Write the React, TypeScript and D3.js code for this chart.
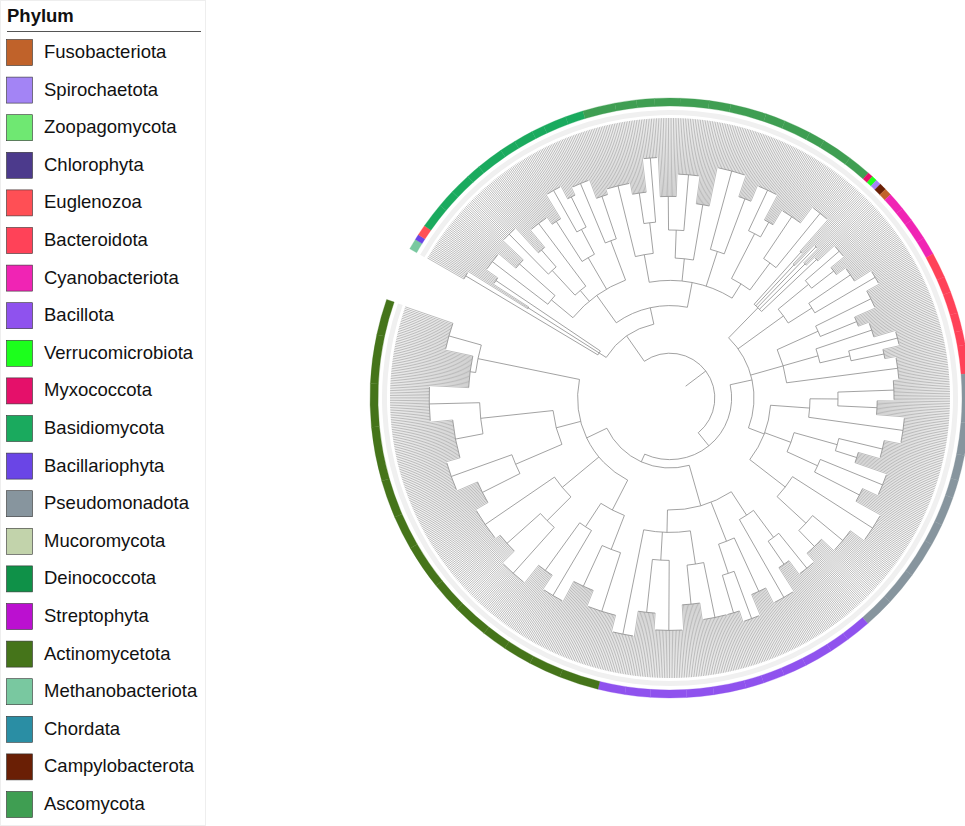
import React from "react";
import * as d3 from "d3";

const phyla = ["Fusobacteriota","Spirochaetota","Zoopagomycota","Chlorophyta","Euglenozoa","Bacteroidota","Cyanobacteriota","Bacillota","Verrucomicrobiota","Myxococcota","Basidiomycota","Bacillariophyta","Pseudomonadota","Mucoromycota","Deinococcota","Streptophyta","Actinomycetota","Methanobacteriota","Chordata","Campylobacterota","Ascomycota"];
const colors = ["#c0622a","#a384f5","#6fe872","#4c3a8c","#ff4f55","#ff4258","#f024b4","#8f52ee","#1cff1c","#e5106a","#1aaa5e","#6a45e6","#87959e","#c2d3ab","#0f9148","#bb10d0","#45741a","#79c8a0","#2a8ea4","#6a1f05","#3f9e52"];

type T = { r: number; c?: T[]; p?: string; n?: number };
const F = (p: string, n: number, r: number): T => ({ p, n, r });
const N = (r: number, ...c: T[]): T => ({ r, c });

const euk = N(0.27,
  N(0.3, F("Methanobacteriota", 6, 0.85), F("Bacillariophyta", 3, 0.6), F("Euglenozoa", 6, 0.75)),
  N(0.33,
    N(0.45,
      N(0.55, F("Basidiomycota", 14, 0.8), F("Basidiomycota", 10, 0.72)),
      N(0.5, N(0.62, F("Basidiomycota", 12, 0.82), F("Basidiomycota", 8, 0.7)), F("Basidiomycota", 15, 0.78)),
      N(0.58, F("Basidiomycota", 9, 0.75), N(0.68, F("Basidiomycota", 11, 0.85), F("Basidiomycota", 7, 0.8))),
      N(0.6, F("Basidiomycota", 13, 0.83), F("Basidiomycota", 10, 0.76))),
    N(0.42,
      N(0.52, F("Ascomycota", 18, 0.78), N(0.63, F("Ascomycota", 12, 0.74), F("Ascomycota", 10, 0.86))),
      N(0.5, N(0.6, F("Ascomycota", 14, 0.72), F("Ascomycota", 16, 0.8)), F("Ascomycota", 12, 0.7)),
      N(0.55, F("Ascomycota", 20, 0.84), F("Ascomycota", 11, 0.76)),
      N(0.48, N(0.66, F("Ascomycota", 15, 0.82), F("Ascomycota", 9, 0.72)), N(0.6, F("Ascomycota", 17, 0.78), F("Ascomycota", 13, 0.85))))));

const gramNeg = N(0.3,
  N(0.45, F("Myxococcota", 3, 0.7), F("Verrucomicrobiota", 3, 0.65), F("Spirochaetota", 3, 0.75), F("Campylobacterota", 4, 0.68), F("Fusobacteriota", 4, 0.72)),
  N(0.5, N(0.64, F("Cyanobacteriota", 10, 0.8), F("Cyanobacteriota", 8, 0.74)), N(0.6, F("Cyanobacteriota", 12, 0.78), F("Cyanobacteriota", 10, 0.85))),
  N(0.42, N(0.58, F("Bacteroidota", 14, 0.8), F("Bacteroidota", 9, 0.72)), N(0.55, F("Bacteroidota", 12, 0.76), N(0.66, F("Bacteroidota", 10, 0.84), F("Bacteroidota", 8, 0.78))), F("Bacteroidota", 16, 0.82)),
  N(0.36,
    N(0.5, N(0.6, F("Pseudomonadota", 15, 0.8), F("Pseudomonadota", 12, 0.74)), F("Pseudomonadota", 18, 0.84)),
    N(0.46, N(0.62, F("Pseudomonadota", 14, 0.78), F("Pseudomonadota", 10, 0.7)), N(0.58, F("Pseudomonadota", 16, 0.82), F("Pseudomonadota", 12, 0.76))),
    N(0.52, F("Pseudomonadota", 20, 0.86), N(0.66, F("Pseudomonadota", 19, 0.8), F("Pseudomonadota", 17, 0.74)))));

const gramPos = N(0.25,
  N(0.4,
    N(0.5, N(0.62, F("Bacillota", 14, 0.78), F("Bacillota", 11, 0.72)), F("Bacillota", 16, 0.82)),
    N(0.55, F("Bacillota", 13, 0.76), N(0.66, F("Bacillota", 12, 0.84), F("Bacillota", 10, 0.8))),
    N(0.48, N(0.6, F("Bacillota", 18, 0.8), F("Bacillota", 15, 0.74)), N(0.58, F("Bacillota", 20, 0.83), F("Bacillota", 14, 0.77)), F("Bacillota", 15, 0.86))),
  N(0.33,
    N(0.45, N(0.58, F("Actinomycetota", 22, 0.8), F("Actinomycetota", 18, 0.74)), N(0.55, F("Actinomycetota", 16, 0.82), F("Actinomycetota", 14, 0.76))),
    N(0.5, N(0.62, F("Actinomycetota", 20, 0.84), F("Actinomycetota", 17, 0.78)), F("Actinomycetota", 25, 0.8)),
    N(0.42, N(0.6, F("Actinomycetota", 19, 0.75), F("Actinomycetota", 21, 0.83)), N(0.68, F("Actinomycetota", 30, 0.78), F("Actinomycetota", 24, 0.86))),
    N(0.7, F("Actinomycetota", 27, 0.72), F("Actinomycetota", 20, 0.82))));

const tree = N(0.16, euk, N(0.22, gramNeg, gramPos));

const CX = 670, CY = 398, R = 280;
const startDeg = 300, endDeg = 649;

export default function App() {
  let total = 0;
  const countTips = (t: T) => { if (t.c) t.c.forEach(countTips); else total += t.n!; };
  countTips(tree);
  const ang = d3.scaleLinear().domain([0, total - 1]).range([startDeg * Math.PI / 180, endDeg * Math.PI / 180]);
  const rad = d3.scaleLinear().domain([0, 1]).range([0, R]);
  const step = ang(1) - ang(0);
  const pt = (a: number, r: number) => [CX + r * Math.sin(a), CY - r * Math.cos(a)];
  const arcP = (a1: number, a2: number, r: number) => {
    const [x1, y1] = pt(a1, r), [x2, y2] = pt(a2, r);
    return `M${x1},${y1}A${r},${r} 0 ${a2 - a1 > Math.PI ? 1 : 0} 1 ${x2},${y2}`;
  };
  const seg = (a: number, r1: number, r2: number) => {
    const [x1, y1] = pt(a, r1), [x2, y2] = pt(a, r2);
    return `M${x1},${y1}L${x2},${y2}`;
  };
  const branches: string[] = [];
  const tips: string[] = [];
  const ring: { p: string; a0: number; a1: number }[] = [];
  let idx = 0;
  const layout = (t: T): number => {
    const rr = rad(t.r);
    if (!t.c) {
      const i0 = idx;
      const a0 = ang(i0), a1 = ang(i0 + t.n! - 1);
      for (let k = 0; k < t.n!; k++) tips.push(seg(ang(idx++), rr, R));
      if (t.n! > 1) branches.push(arcP(a0, a1, rr));
      ring.push({ p: t.p!, a0: a0 - step / 2, a1: a1 + step / 2 });
      return (a0 + a1) / 2;
    }
    const ca = t.c.map((c) => {
      const a = layout(c);
      branches.push(seg(a, rr, rad(c.r)));
      return a;
    });
    branches.push(arcP(ca[0], ca[ca.length - 1], rr));
    return (ca[0] + ca[ca.length - 1]) / 2;
  };
  const rootA = layout(tree);
  branches.push(seg(rootA, rad(0.07), rad(tree.r)));
  const ringArc = d3.arc<any>().innerRadius(292).outerRadius(300);
  const bandArc = d3.arc<any>().innerRadius(283).outerRadius(288);
  const color = (p: string) => colors[phyla.indexOf(p)];

  return (
    <svg width={965} height={826} style={{ position: "absolute", left: 0, top: 0, fontFamily: "Liberation Sans, Arial, sans-serif" }}>
      <rect x={0.5} y={0.5} width={205} height={825} fill="#fff" stroke="#eee" />
      <text x={7} y={22} fontSize={18.5} fontWeight="bold" fill="#111">Phylum</text>
      <line x1={7} x2={201} y1={31.5} y2={31.5} stroke="#555" strokeWidth={1} />
      {phyla.map((p, i) => (
        <g key={p} transform={`translate(0,${39 + i * 37.6})`}>
          <rect x={6.5} y={0.5} width={26} height={26} fill={colors[i]} stroke="#333" strokeWidth={0.6} />
          <text x={44} y={19} fontSize={18.5} fill="#111">{p}</text>
        </g>
      ))}
      <path d={bandArc({ startAngle: ang(0) - step / 2, endAngle: ang(total - 1) + step / 2 })!} transform={`translate(${CX},${CY})`} fill="#f0f0f0" />
      <g stroke="#8e8e8e" strokeWidth={0.6} fill="none">
        {tips.map((d, i) => <path key={i} d={d} />)}
      </g>
      <g stroke="#8a8a8a" strokeWidth={0.8} fill="none">
        {branches.map((d, i) => <path key={i} d={d} />)}
      </g>
      <g transform={`translate(${CX},${CY})`}>
        {ring.map((s, i) => (
          <path key={i} d={ringArc({ startAngle: s.a0, endAngle: s.a1 })!} fill={color(s.p)} stroke={color(s.p)} strokeWidth={0.3} />
        ))}
      </g>
    </svg>
  );
}
